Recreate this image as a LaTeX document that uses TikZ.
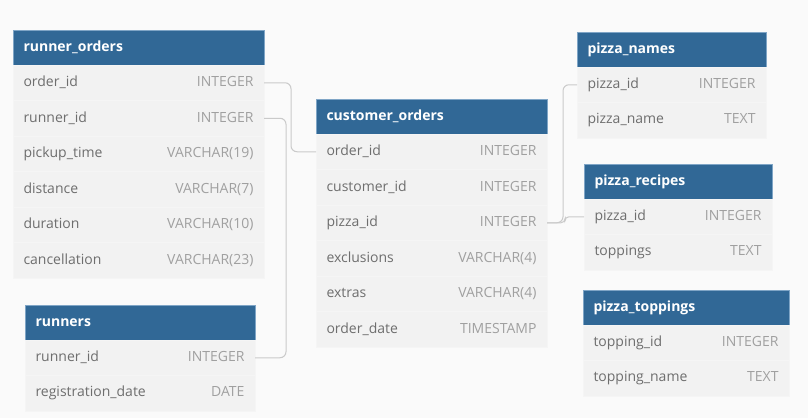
\documentclass[tikz,border=0pt]{standalone}
\usepackage{xcolor}
\usepackage{tikz}
\usepackage{fontspec}
\setmainfont{Open Sans}
\usetikzlibrary{
  positioning,
  backgrounds
}
\definecolor{erBg}{HTML}{FAFAFA}
\definecolor{erHead}{HTML}{316896}
\definecolor{erHeadLine}{HTML}{7FA5C6}
\definecolor{erRow}{HTML}{F2F2F2}
\definecolor{erRowLine}{HTML}{F5F5F5}
\definecolor{erName}{HTML}{6E6E6E}
\definecolor{erType}{HTML}{A0A0A0}
\definecolor{erLink}{HTML}{CACACA}
\newcommand{\ertype}[1]{{\color{erType}#1}}
\tikzset{
  tblhead/.style={
    draw=erHeadLine, fill=erHead, text=white, line width=1pt,
    minimum height=35, inner xsep=10.5pt, inner ysep=0pt, outer sep=0pt,
    font=\fontsize{14}{16}\selectfont\bfseries, align=left
  },
  tblrow/.style={
    draw=erRowLine, fill=erRow, text=erName, line width=0.8pt,
    minimum height=35.5, inner xsep=10.5pt, inner ysep=0pt, outer sep=0pt,
    font=\fontsize{14}{16}\selectfont
  },
  link/.style={draw=erLink, line width=1pt, rounded corners=6pt}
}

\begin{document}
\begin{tikzpicture}[x=1pt, y=-1pt]
  \useasboundingbox (0,0) rectangle (808,418);

  % runner_orders
  \node[tblhead, anchor=north west, text width=230] (roHead) at (13,30) {runner\_orders};
  \foreach \c/\t [count=\i, remember=\i as \j (initially Head)] in
    {order\_id/INTEGER, runner\_id/INTEGER, pickup\_time/VARCHAR(19),
     distance/VARCHAR(7), duration/VARCHAR(10), cancellation/VARCHAR(23)}
    \node[tblrow, text width=230, below=0pt of ro\j] (ro\i) {\c\hfill\ertype{\t}};

  % runners
  \node[tblhead, anchor=north west, text width=209] (rnHead) at (25,305) {runners};
  \foreach \c/\t [count=\i, remember=\i as \j (initially Head)] in
    {runner\_id/INTEGER, registration\_date/DATE}
    \node[tblrow, text width=209, below=0pt of rn\j] (rn\i) {\c\hfill\ertype{\t}};

  % customer_orders
  \node[tblhead, anchor=north west, text width=210] (coHead) at (316,99) {customer\_orders};
  \foreach \c/\t [count=\i, remember=\i as \j (initially Head)] in
    {order\_id/INTEGER, customer\_id/INTEGER, pizza\_id/INTEGER,
     exclusions/VARCHAR(4), extras/VARCHAR(4), order\_date/TIMESTAMP}
    \node[tblrow, text width=210, below=0pt of co\j] (co\i) {\c\hfill\ertype{\t}};

  % pizza_names
  \node[tblhead, anchor=north west, text width=168] (pnHead) at (577,32) {pizza\_names};
  \foreach \c/\t [count=\i, remember=\i as \j (initially Head)] in
    {pizza\_id/INTEGER, pizza\_name/TEXT}
    \node[tblrow, text width=168, below=0pt of pn\j] (pn\i) {\c\hfill\ertype{\t}};

  % pizza_recipes
  \node[tblhead, anchor=north west, text width=167] (prHead) at (584,164) {pizza\_recipes};
  \foreach \c/\t [count=\i, remember=\i as \j (initially Head)] in
    {pizza\_id/INTEGER, toppings/TEXT}
    \node[tblrow, text width=167, below=0pt of pr\j] (pr\i) {\c\hfill\ertype{\t}};

  % pizza_toppings
  \node[tblhead, anchor=north west, text width=185] (ptHead) at (583,290) {pizza\_toppings};
  \foreach \c/\t [count=\i, remember=\i as \j (initially Head)] in
    {topping\_id/INTEGER, topping\_name/TEXT}
    \node[tblrow, text width=185, below=0pt of pt\j] (pt\i) {\c\hfill\ertype{\t}};

  % references
  \draw[link] (ro1.east) -- ++(27,0) |- (co1.west);
  \draw[link] (ro2.east) -- ++(22,0) |- (rn1.east);
  \draw[link] (co3.east) -- ++(16,0) |- (pn1.west);
  \draw[link, rounded corners=4pt] (co3.east) -- ++(18,0) |- (pr1.west);

  \begin{scope}[on background layer]
    \fill[erBg] (0,0) rectangle (808,418);
  \end{scope}
\end{tikzpicture}
\end{document}
